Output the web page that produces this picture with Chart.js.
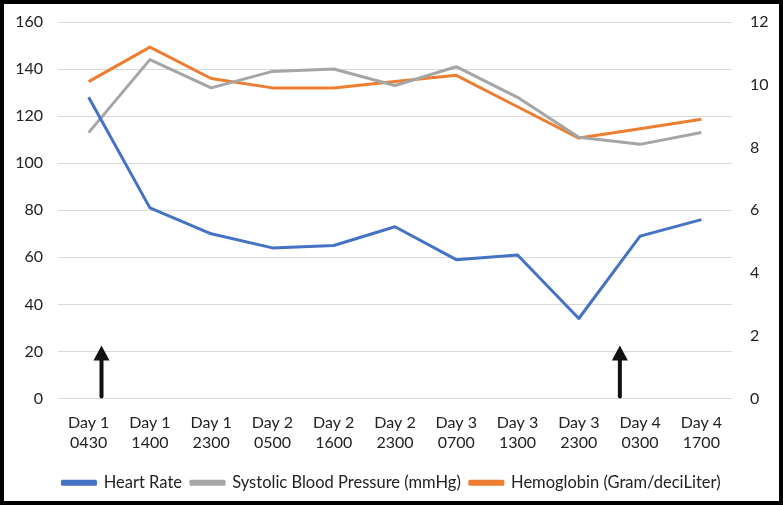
<!DOCTYPE html>
<html>
<head>
<meta charset="utf-8">
<script src="https://cdn.jsdelivr.net/npm/chart.js@4/dist/chart.umd.min.js"></script>
<style>
  html, body { margin: 0; padding: 0; background: #fff; }
  #frame {
    position: absolute; left: 0; top: 0;
    width: 775px; height: 497px;
    border: 4px solid #000;
  }
  #chart { display: block; }
</style>
</head>
<body>
<div id="frame"><canvas id="chart" width="775" height="497"></canvas></div>
<script>
// --- data ---
const categories = [
    ['Day 1', '0430'], ['Day 1', '1400'], ['Day 1', '2300'],
    ['Day 2', '0500'], ['Day 2', '1600'], ['Day 2', '2300'],
    ['Day 3', '0700'], ['Day 3', '1300'], ['Day 3', '2300'],
    ['Day 4', '0300'], ['Day 4', '1700']
];
const heartRate  = [128, 81, 70, 64, 65, 73, 59, 61, 34, 69, 76];
const systolicBP = [113, 144, 132, 139, 140, 133, 141, 128, 111, 108, 113];
const hemoglobin = [10.1, 11.2, 10.2, 9.9, 9.9, 10.1, 10.3, 9.3, 8.3, 8.6, 8.9];

const leftTicks  = { min: 0, max: 160, step: 20 };
const rightTicks = { min: 0, max: 12, step: 2 };

// arrows: position on category axis, tip value on left axis
const arrowPositions = [0.21, 8.67];
const arrowTip = 22.5;

const FONT = 'Lato, "Open Sans", sans-serif';

// draws the black up-arrows over the chart
const arrowPlugin = {
    id: 'arrows',
    afterDatasetsDraw(chart) {
        const ctx = chart.ctx;
        const xs = chart.scales.x, ys = chart.scales.y;
        const yBase = ys.getPixelForValue(0);
        const yTop = ys.getPixelForValue(arrowTip);
        ctx.save();
        ctx.strokeStyle = '#111';
        ctx.fillStyle = '#111';
        ctx.lineWidth = 4;
        ctx.lineCap = 'round';
        arrowPositions.forEach(p => {
            const x = xs.getPixelForValue(p);
            ctx.beginPath();
            ctx.moveTo(x, yBase - 2);
            ctx.lineTo(x, yTop + 10);
            ctx.stroke();
            ctx.beginPath();
            ctx.moveTo(x, yTop);
            ctx.lineTo(x - 8, yTop + 15);
            ctx.lineTo(x + 8, yTop + 15);
            ctx.closePath();
            ctx.fill();
        });
        ctx.restore();
    }
};

// fixed axis sizes so the plot area sits where the original has it
function fixY(width) {
    return s => { s.width = width; s.paddingTop = 0; s.paddingBottom = 0; };
}

new Chart(document.getElementById('chart'), {
    type: 'line',
    data: {
        labels: categories,
        datasets: [
            { label: 'Heart Rate', data: heartRate, borderColor: '#4472C4', backgroundColor: '#4472C4', yAxisID: 'y' },
            { label: 'Systolic Blood Pressure (mmHg)', data: systolicBP, borderColor: '#A5A5A5', backgroundColor: '#A5A5A5', yAxisID: 'y' },
            { label: 'Hemoglobin (Gram/deciLiter)', data: hemoglobin, borderColor: '#ED7D31', backgroundColor: '#ED7D31', yAxisID: 'y1' }
        ]
    },
    options: {
        responsive: false,
        animation: false,
        devicePixelRatio: 1,
        elements: {
            line: { borderWidth: 3, tension: 0, borderJoinStyle: 'round' },
            point: { radius: 0 }
        },
        layout: { padding: { top: 18, left: 0, right: 0, bottom: 0 } },
        plugins: {
            legend: {
                position: 'bottom',
                labels: {
                    boxWidth: 33,
                    boxHeight: 3,
                    padding: 9,
                    color: '#222',
                    font: { family: FONT, size: 16.5 }
                }
            },
            tooltip: { enabled: false }
        },
        scales: {
            x: {
                offset: true,
                grid: { display: false },
                border: { display: false },
                afterFit: s => { s.height = 67; },
                ticks: { color: '#222', padding: 6, maxRotation: 0, font: { family: FONT, size: 16, lineHeight: 1.25 } }
            },
            y: {
                position: 'left',
                min: leftTicks.min, max: leftTicks.max,
                afterFit: fixY(54),
                ticks: { stepSize: leftTicks.step, color: '#222', padding: 15, font: { family: FONT, size: 16 } },
                grid: { color: '#D9D9D9', drawTicks: false },
                border: { display: false }
            },
            y1: {
                position: 'right',
                min: rightTicks.min, max: rightTicks.max,
                afterFit: fixY(47),
                ticks: { stepSize: rightTicks.step, color: '#222', padding: 18, font: { family: FONT, size: 16 } },
                grid: { display: false, drawTicks: false },
                border: { display: false }
            }
        }
    },
    plugins: [arrowPlugin]
});
</script>
</body>
</html>
